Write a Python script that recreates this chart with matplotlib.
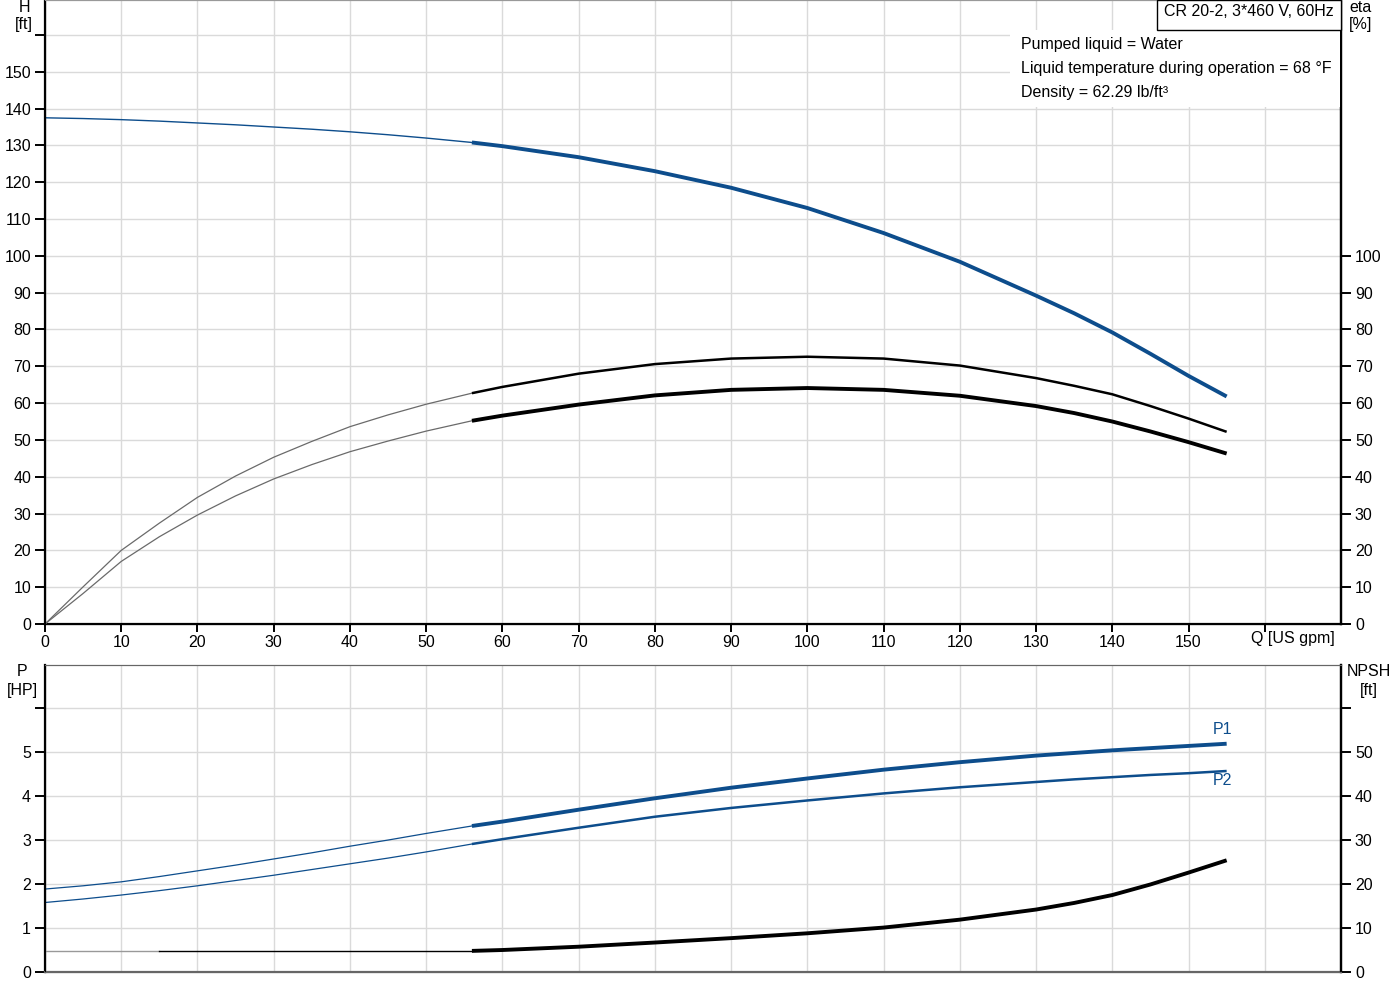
import numpy as np
import matplotlib.pyplot as plt

plt.rcParams['font.family'] = ['Liberation Sans', 'DejaVu Sans']
plt.rcParams['font.size'] = 11.5

# flow points [US gpm]
q = np.array([0, 5, 10, 15, 20, 25, 30, 35, 40, 45, 50, 56, 60, 70, 80, 90, 100,
              110, 120, 130, 135, 140, 145, 150, 155])
q_split = 56   # thin curve below, thick curve above (duty range)

head = np.array([137.5, 137.3, 137.0, 136.6, 136.1, 135.6, 135.0, 134.4, 133.7, 132.9,
                 132.0, 130.8, 129.8, 126.8, 123.0, 118.5, 113.0, 106.2, 98.4, 89.2,
                 84.4, 79.2, 73.4, 67.4, 61.8])
eta_pump = np.array([0, 10.1, 20, 27.4, 34.4, 40.2, 45.3, 49.6, 53.6, 56.8,
                     59.7, 62.7, 64.4, 68, 70.6, 72.1, 72.6, 72.1, 70.2, 66.8,
                     64.7, 62.4, 59.2, 55.8, 52.2])
eta_total = np.array([0, 8.3, 17, 23.7, 29.6, 34.8, 39.4, 43.3, 46.8, 49.7,
                      52.4, 55.2, 56.6, 59.6, 62.1, 63.6, 64.1, 63.6, 62.0, 59.2,
                      57.3, 55.0, 52.3, 49.4, 46.3])
p1 = np.array([1.886, 1.96, 2.05, 2.17, 2.30, 2.43, 2.57, 2.71, 2.86, 3.00,
               3.15, 3.32, 3.42, 3.69, 3.95, 4.19, 4.40, 4.60, 4.77, 4.92,
               4.98, 5.04, 5.09, 5.14, 5.19])
p2 = np.array([1.58, 1.66, 1.75, 1.85, 1.96, 2.08, 2.20, 2.33, 2.46, 2.59,
               2.73, 2.91, 3.02, 3.28, 3.53, 3.73, 3.90, 4.06, 4.20, 4.32,
               4.38, 4.43, 4.48, 4.52, 4.57])
npsh = np.array([4.8, 4.8, 4.8, 4.8, 4.8, 4.8, 4.8, 4.8, 4.8, 4.8,
                 4.8, 4.8, 5.0, 5.75, 6.7, 7.7, 8.8, 10.1, 11.9, 14.2,
                 15.7, 17.5, 19.9, 22.6, 25.4])

x_ticks = list(range(0, 170, 10))
h_ticks = list(range(0, 170, 10))
eta_ticks = list(range(0, 110, 10))
p_ticks = list(range(0, 7))
npsh_ticks = list(range(0, 70, 10))

blue = '#0d4d8c'
grid_c = '#dadada'
thin_c = '#6a6a6a'

fig = plt.figure(figsize=(14, 10), dpi=100)
ax = fig.add_axes([45 / 1400, 1 - 624 / 1000, 1296 / 1400, 624 / 1000])
ax2 = fig.add_axes([45 / 1400, 1 - 972 / 1000, 1296 / 1400, 307 / 1000])

lo = q <= q_split
hi = q >= q_split


def style(a, top_color, bottom_color):
    a.set_xlim(0, 170)
    a.set_xticks(x_ticks)
    a.grid(True, color=grid_c, lw=1.0)
    a.set_axisbelow(True)
    a.spines['left'].set_linewidth(1.6)
    a.spines['right'].set_linewidth(1.6)
    a.spines['bottom'].set_linewidth(1.6)
    a.spines['top'].set_color(top_color)
    a.spines['bottom'].set_color(bottom_color)
    a.tick_params(axis='y', length=7, width=1.4, pad=3, colors='black')


# ---- top: head and efficiency
style(ax, '#999999', 'black')
ax.set_ylim(0, 169.5)
ax.set_yticks(h_ticks)
ax.set_yticklabels([str(v) if v < 160 else '' for v in h_ticks])
ax.set_xticklabels([str(v) if v < 160 else '' for v in x_ticks])
ax.tick_params(axis='x', length=6, width=1.4, pad=2)

ax.plot(q[lo], head[lo], color=blue, lw=1.0)
ax.plot(q[hi], head[hi], color=blue, lw=2.8, solid_capstyle='butt')

axr = ax.twinx()
axr.set_ylim(0, 169.5)
axr.set_yticks(eta_ticks)
axr.spines['right'].set_linewidth(1.6)
axr.spines['top'].set_color('#999999')
axr.tick_params(axis='y', length=7, width=1.4, pad=3)
axr.plot(q[lo], eta_pump[lo], color=thin_c, lw=0.9)
axr.plot(q[hi], eta_pump[hi], color='black', lw=1.8, solid_capstyle='butt')
axr.plot(q[lo], eta_total[lo], color=thin_c, lw=0.9)
axr.plot(q[hi], eta_total[hi], color='black', lw=2.8, solid_capstyle='butt')

# ---- bottom: power and NPSH
style(ax2, '#666666', '#666666')
ax2.set_ylim(0, 6.98)
ax2.set_yticks(p_ticks)
ax2.set_yticklabels([str(v) if v < 6 else '' for v in p_ticks])
ax2.tick_params(axis='x', length=0, labelbottom=False)

ax2.plot(q[lo], p1[lo], color=blue, lw=0.9)
ax2.plot(q[hi], p1[hi], color=blue, lw=2.8, solid_capstyle='butt')
ax2.plot(q[lo], p2[lo], color=blue, lw=0.9)
ax2.plot(q[hi], p2[hi], color=blue, lw=1.8, solid_capstyle='butt')
ax2.text(q[-1] - 0.5, p1[-1] + 0.15, 'P1', color=blue, ha='center', va='bottom')
ax2.text(q[-1] - 0.5, p2[-1] - 0.05, 'P2', color=blue, ha='center', va='top')

ax2r = ax2.twinx()
ax2r.set_ylim(0, 69.8)
ax2r.set_yticks(npsh_ticks)
ax2r.set_yticklabels([str(v) if v < 60 else '' for v in npsh_ticks])
ax2r.spines['right'].set_linewidth(1.6)
ax2r.spines['top'].set_color('#666666')
ax2r.spines['bottom'].set_color('#666666')
ax2r.tick_params(axis='y', length=7, width=1.4, pad=3)
gray_part = q <= 15
mid_part = (q >= 15) & (q <= q_split)
ax2r.plot(q[gray_part], npsh[gray_part], color='#999999', lw=1.0)
ax2r.plot(q[mid_part], npsh[mid_part], color='black', lw=1.0)
ax2r.plot(q[hi], npsh[hi], color='black', lw=2.8, solid_capstyle='butt')

# ---- axis captions
fig.text(24 / 1400, 1 - 7 / 1000, 'H', ha='center', va='center')
fig.text(24 / 1400, 1 - 25 / 1000, '[ft]', ha='center', va='center')
fig.text(1361 / 1400, 1 - 7 / 1000, 'eta', ha='center', va='center')
fig.text(1361 / 1400, 1 - 25 / 1000, '[%]', ha='center', va='center')
fig.text(22 / 1400, 1 - 672 / 1000, 'P', ha='center', va='center')
fig.text(22 / 1400, 1 - 690 / 1000, '[HP]', ha='center', va='center')
fig.text(1369 / 1400, 1 - 672 / 1000, 'NPSH', ha='center', va='center')
fig.text(1369 / 1400, 1 - 690 / 1000, '[ft]', ha='center', va='center')
fig.text(1251 / 1400, 1 - 639 / 1000, 'Q [US gpm]', ha='left', va='center')

# ---- info boxes
fig.patches.append(plt.Rectangle((1010 / 1400, 1 - 107 / 1000), 330 / 1400, 77 / 1000,
                                 transform=fig.transFigure, facecolor='white',
                                 edgecolor='none', zorder=5))
fig.patches.append(plt.Rectangle((1157 / 1400, 1 - 30 / 1000), 184 / 1400, 30 / 1000,
                                 transform=fig.transFigure, facecolor='white',
                                 edgecolor='black', lw=1.0, zorder=6))
fig.text(1249 / 1400, 1 - 12 / 1000, 'CR 20-2, 3*460 V, 60Hz', ha='center', va='center', zorder=7)
info_lines = ['Pumped liquid = Water',
              'Liquid temperature during operation = 68 \u00b0F',
              'Density = 62.29 lb/ft\u00b3']
for i, line in enumerate(info_lines):
    fig.text(1021 / 1400, 1 - (44 + 24 * i) / 1000, line, ha='left', va='center', zorder=7)

fig.savefig('out.png', dpi=100)
